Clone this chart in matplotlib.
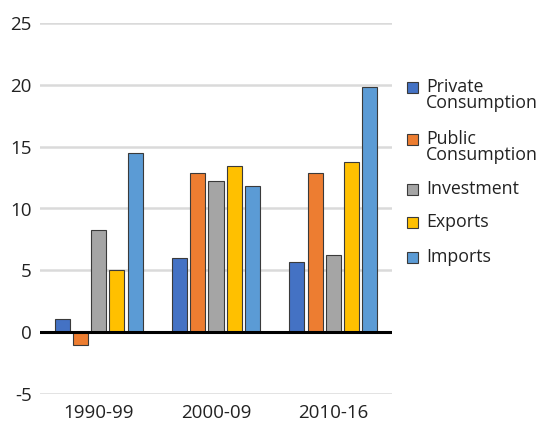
import numpy as np
import matplotlib
matplotlib.use("Agg")
import matplotlib.pyplot as plt
from matplotlib.patches import Rectangle

# ── data ──────────────────────────────────────────────
periods = ["1990-99", "2000-09", "2010-16"]
series_names = ["Private\nConsumption", "Public\nConsumption", "Investment", "Exports", "Imports"]
private_cons = [1.1, 6.0, 5.7]
public_cons = [-1.0, 12.9, 12.9]
investment = [8.3, 12.2, 6.2]
exports = [5.0, 13.4, 13.8]
imports = [14.5, 11.8, 19.8]
colors = ["#4472C4", "#ED7D31", "#A5A5A5", "#FFC000", "#5B9BD5"]
yticks = [-5, 0, 5, 10, 15, 20, 25]

plt.rcParams["font.family"] = ["Open Sans", "DejaVu Sans"]

fig = plt.figure(figsize=(5.53, 4.22), dpi=100)
ax = fig.add_axes([40 / 553, 1 - 394 / 422, 352 / 553, 371 / 422])

x = np.arange(len(periods))
slot = 0.156
width = 0.128
all_series = [private_cons, public_cons, investment, exports, imports]
for i, vals in enumerate(all_series):
    ax.bar(x + (i - 2) * slot, vals, width, color=colors[i],
           edgecolor="#3a3a3a", linewidth=0.8, zorder=3)

ax.set_xlim(-0.5, 2.5)
ax.set_ylim(-5, 25)
ax.set_yticks(yticks)
ax.set_yticklabels([str(v) for v in yticks])
ax.set_xticks(x)
ax.set_xticklabels(periods)
ax.tick_params(length=0, labelsize=13.5, colors="#222222")
ax.tick_params(axis="y", pad=6)
ax.tick_params(axis="x", pad=7)
ax.grid(axis="y", color="#dadada", linewidth=1.8, zorder=0)
ax.axhline(0, color="black", linewidth=2.2, zorder=4)
for s in ax.spines.values():
    s.set_visible(False)

# ── legend (drawn by hand so the box sits on the first text line) ──
leg_y = [87, 139, 189, 222, 257]
for name, c, yy in zip(series_names, colors, leg_y):
    fig.patches.append(Rectangle((407 / 553, 1 - (yy + 5.5) / 422), 11 / 553, 11 / 422,
                                 transform=fig.transFigure, facecolor=c,
                                 edgecolor="#3a3a3a", linewidth=0.8))
    fig.text(426 / 553, 1 - (yy - 9) / 422, name, fontsize=12.8, color="#222222",
             va="top", ha="left", linespacing=0.88)

plt.savefig("out.png", dpi=100)
